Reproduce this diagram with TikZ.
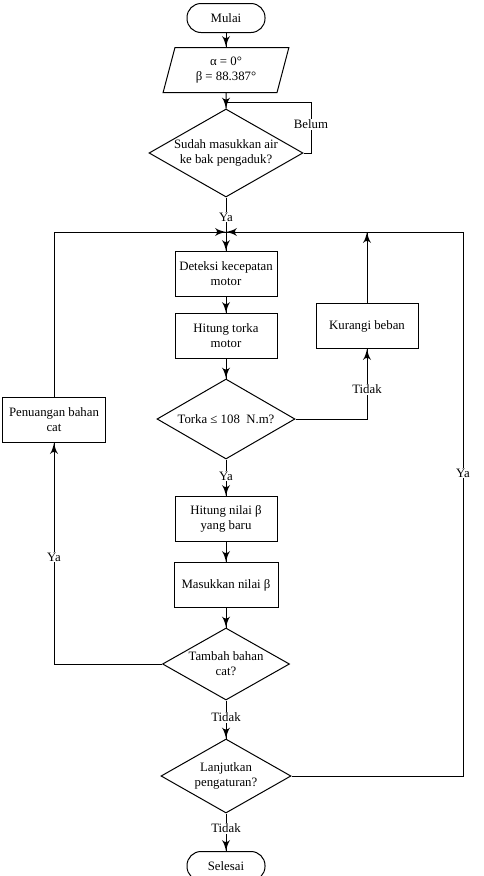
\documentclass[tikz,border=0pt]{standalone}
\usepackage{fontspec}
\setmainfont{Liberation Serif}
\usepackage{tikz}
\usetikzlibrary{arrows}
\usetikzlibrary{decorations.markings}
\usetikzlibrary{shapes.geometric}
\tikzset{flowto/.style = {decoration={markings,
                                      mark=at position 1 with {\arrow[scale=1.9]{latex'}}},
                          postaction={decorate}}}
\tikzset{proc/.style = {draw, minimum width=102pt, minimum height=45pt,
                        align=center, inner sep=1pt}}
\tikzset{term/.style = {draw, rounded corners=14pt, minimum width=78pt,
                        minimum height=29pt, inner sep=1pt}}
\tikzset{io/.style = {draw, trapezium, trapezium left angle=75, trapezium right angle=105,
                      trapezium stretches=true, minimum width=126pt, minimum height=45pt,
                      align=center, inner sep=0pt}}
\tikzset{dec/.style = {draw, diamond, align=center, inner sep=0pt}}
\tikzset{lbl/.style = {fill=white, inner sep=1pt}}

\begin{document}
\begin{tikzpicture}[x=1pt, y=-1pt, line width=1pt, font=\fontsize{12.8}{15}\selectfont]
      \useasboundingbox (0,0) rectangle (484,876);

      \node [term] (mulai) at (226,18) {Mulai};
      \node [io] (awal) at (226,70) {α = 0°\\β = 88.387°};
      \node [dec, minimum width=154pt, minimum height=88pt, aspect=1.75] (air) at (226,153) {Sudah masukkan air\\ke bak pengaduk?};
      \node [proc] (deteksi) at (226,274) {Deteksi kecepatan\\motor};
      \node [proc] (torka) at (226,336) {Hitung torka\\motor};
      \node [dec, minimum width=138pt, minimum height=80pt, aspect=1.725] (cektorka) at (226,419) {Torka ≤ 108~~N.m?};
      \node [proc] (kurangi) at (367,326) {Kurangi beban};
      \node [proc, minimum width=103pt] (tuang) at (54,420) {Penuangan bahan\\cat};
      \node [proc] (beta) at (226,519) {Hitung nilai β\\yang baru};
      \node [proc, minimum width=104pt] (masuk) at (226,585) {Masukkan nilai β};
      \node [dec, minimum width=127pt, minimum height=72pt, aspect=1.76] (tambah) at (226,664) {Tambah bahan\\cat?};
      \node [dec, minimum width=130pt, minimum height=74pt, aspect=1.76] (lanjut) at (226,776) {Lanjutkan\\pengaturan?};
      \node [term] (selesai) at (226,866) {Selesai};

      \coordinate (j) at (226,232);
      \coordinate (belumpt) at (311,102);
      \coordinate (kanan) at (463,232);

      % alur utama
      \draw [flowto] (mulai) -- (awal);
      \draw [flowto] (awal) -- (air);
      \draw (air.east) -| (belumpt) -- (belumpt -| air.north);
      \draw (air) -- (j);
      \draw [flowto] (j) -- (deteksi);
      \draw [flowto] (deteksi) -- (torka);
      \draw [flowto] (torka) -- (cektorka);
      \draw [flowto] (cektorka) -- (beta);
      \draw [flowto] (beta) -- (masuk);
      \draw [flowto] (masuk) -- (tambah);
      \draw [flowto] (tambah) -- (lanjut);
      \draw [flowto] (lanjut) -- (selesai);

      % cabang
      \draw [flowto] (cektorka.east) -| (kurangi.south);
      \draw [flowto] (kurangi.north) -- (kurangi.north |- j);
      \draw [flowto] (tambah.west) -| (tuang.south);
      \draw [flowto] (tuang.north) |- (j);
      \draw [flowto] (lanjut.east) -| (kanan) -- (j);

      \node [lbl] (belum) at (311,124) {Belum};
      \node [lbl] (ya1) at (226,217) {Ya};
      \node [lbl] (tidak1) at (367,389) {Tidak};
      \node [lbl] (ya2) at (226,476) {Ya};
      \node [lbl] (ya3) at (54,557) {Ya};
      \node [lbl] (ya4) at (463,473) {Ya};
      \node [lbl] (tidak2) at (226,717) {Tidak};
      \node [lbl] (tidak3) at (226,828) {Tidak};
\end{tikzpicture}
\end{document}
